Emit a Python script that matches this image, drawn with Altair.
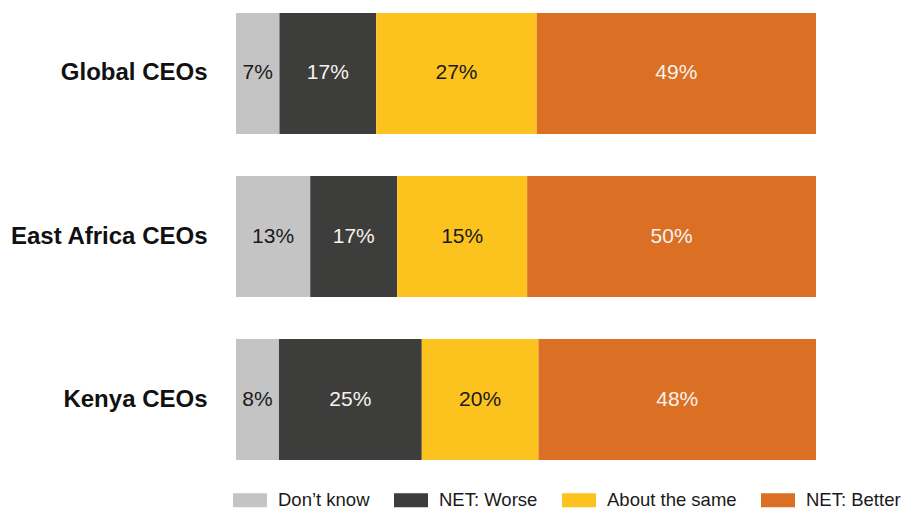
import altair as alt
import pandas as pd

categories = ["Global CEOs", "East Africa CEOs", "Kenya CEOs"]
responses = ["Don’t know", "NET: Worse", "About the same", "NET: Better"]
colors = ["#c4c4c4", "#3d3d3b", "#fcc31f", "#db6f24"]

# bar lengths (share of each bar)
global_vals = [7.5, 16.7, 27.7, 48.2]
east_africa_vals = [12.8, 15.0, 22.4, 49.8]
kenya_vals = [7.4, 24.6, 20.1, 47.8]

# labels as printed on the bars
global_labels = ["7%", "17%", "27%", "49%"]
east_africa_labels = ["13%", "17%", "15%", "50%"]
kenya_labels = ["8%", "25%", "20%", "48%"]

rows = []
for cat, vals, labs in zip(categories,
                           [global_vals, east_africa_vals, kenya_vals],
                           [global_labels, east_africa_labels, kenya_labels]):
    for i, (r, v, l) in enumerate(zip(responses, vals, labs)):
        rows.append({"group": cat, "response": r, "value": v, "label": l, "idx": i})
df = pd.DataFrame(rows)

FONT = "Liberation Sans"

base = alt.Chart(df).transform_stack(
    stack="value", groupby=["group"], sort=[alt.SortField("idx")],
    as_=["v0", "v1"], offset="normalize"
).transform_calculate(mid="(datum.v0 + datum.v1) / 2")

yenc = alt.Y("group:N", sort=categories, title=None,
             scale=alt.Scale(paddingInner=0.258, paddingOuter=0),
             axis=alt.Axis(domain=False, ticks=False, labelFontSize=24,
                           labelFontWeight="bold", labelColor="#111111",
                           labelFont=FONT, labelPadding=29, labelLimit=400))

xscale = alt.Scale(domain=[0, 1], nice=False, zero=True)

bars = base.mark_bar(strokeWidth=0).encode(
    x=alt.X("v0:Q", scale=xscale, axis=None),
    x2="v1:Q",
    y=yenc,
    color=alt.Color("response:N", sort=responses,
                    scale=alt.Scale(domain=responses, range=colors),
                    legend=alt.Legend(
                        title=None, orient="none", direction="horizontal",
                        legendX=-3, legendY=470, padding=0,
                        symbolType="M-1,-0.41L1,-0.41L1,0.41L-1,0.41Z",
                        symbolSize=1156, symbolStrokeWidth=0, symbolOpacity=1,
                        labelFontSize=18.5, labelFont=FONT, labelColor="#1a1a1a",
                        labelOffset=11, columnPadding=24, labelLimit=300)),
)

texts = base.mark_text(fontSize=21, font=FONT, baseline="middle", align="center").encode(
    x=alt.X("mid:Q", scale=xscale, axis=None),
    y=alt.Y("group:N", sort=categories),
    text="label:N",
    color=alt.condition(
        "datum.response == 'NET: Worse' || datum.response == 'NET: Better'",
        alt.value("#f7f2ee"), alt.value("#1a1a1a")),
)

chart = alt.layer(bars, texts).properties(
    width=580, height=447,
    autosize=alt.AutoSizeParams(type="none"),
    padding={"left": 228, "top": 5, "right": 85, "bottom": 48},
).configure_view(stroke=None)

chart.save("out.html", embed_options={"renderer": "svg", "actions": False})
